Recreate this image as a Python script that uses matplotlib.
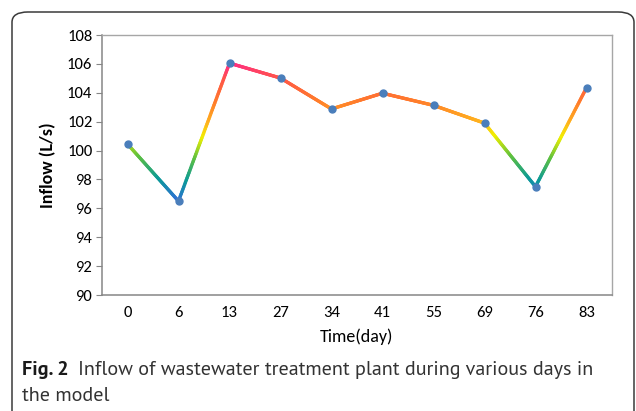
import numpy as np
import matplotlib
matplotlib.use("Agg")
import matplotlib.pyplot as plt
from matplotlib import font_manager
from matplotlib.collections import LineCollection
from matplotlib.colors import LinearSegmentedColormap, Normalize
from matplotlib.patches import FancyBboxPatch

# data
days = ["0", "6", "13", "27", "34", "41", "55", "69", "76", "83"]
inflow = [100.45, 96.5, 106.05, 105.02, 102.88, 103.97, 103.13, 101.9, 97.5, 104.35]

# colour ramp of the line, by inflow value
ramp_vals = [96.5, 98.0, 99.6, 101.0, 102.0, 103.5, 105.0, 106.1]
ramp_cols = ["#2f6fd8", "#0b9a98", "#62c23c", "#f2f000", "#ffb21e",
             "#ff7a2c", "#ff5648", "#ff2a86"]

caption_bold = "Fig. 2"
caption_1 = "Inflow of wastewater treatment plant during various days in"
caption_2 = "the model"

names = set(f.name for f in font_manager.fontManager.ttflist)
tick_font = "Carlito" if "Carlito" in names else "Lato"
cap_font = "PT Sans" if "PT Sans" in names else "Open Sans"

fig = plt.figure(figsize=(6.36, 4.11), dpi=100)

# rounded frame around the figure + caption
frame = FancyBboxPatch((12 / 636, -0.1), 622 / 636, 1.1 - 12 / 411,
                       boxstyle="round,pad=0,rounding_size=0.025",
                       transform=fig.transFigure, facecolor="none",
                       edgecolor="#3a3a3a", linewidth=1.1)
fig.patches.append(frame)

ax = fig.add_axes([102 / 636, 116 / 411, 510 / 636, 260 / 411])

x = np.arange(len(days))
y = np.array(inflow)

norm = Normalize(ramp_vals[0], ramp_vals[-1])
cmap = LinearSegmentedColormap.from_list(
    "ramp", [(norm(v), c) for v, c in zip(ramp_vals, ramp_cols)])

# split every segment in small pieces so the colour follows the value
xs, ys = [], []
for i in range(len(x) - 1):
    t = np.linspace(0, 1, 60)
    xs.append(x[i] + (x[i + 1] - x[i]) * t)
    ys.append(y[i] + (y[i + 1] - y[i]) * t)
xs = np.concatenate(xs)
ys = np.concatenate(ys)
pts = np.column_stack([xs, ys]).reshape(-1, 1, 2)
segs = np.concatenate([pts[:-1], pts[1:]], axis=1)
lc = LineCollection(segs, cmap=cmap, norm=norm, linewidth=2.4,
                    capstyle="round")
lc.set_array((ys[:-1] + ys[1:]) / 2)
ax.add_collection(lc)

ax.plot(x, y, "o", color="#4a7ebb", markersize=5, zorder=3)

ax.set_xlim(-0.5, len(days) - 0.5)
ax.set_ylim(90, 108)
ax.set_yticks(np.arange(90, 109, 2))
ax.set_xticks(x)
ax.set_xticklabels(days)

for side in ["left", "bottom"]:
    ax.spines[side].set_color("#868686")
    ax.spines[side].set_linewidth(1.1)
for side in ["top", "right"]:
    ax.spines[side].set_color("#a6a6a6")
    ax.spines[side].set_linewidth(1.0)

ax.tick_params(axis="y", length=4, color="#868686", labelsize=12, pad=3)
ax.tick_params(axis="x", length=0, labelsize=12, pad=8)
for lab in ax.get_xticklabels() + ax.get_yticklabels():
    lab.set_fontfamily(tick_font)

ax.set_ylabel("Inflow (L/s)", fontsize=13, fontweight="bold",
              fontfamily=tick_font, labelpad=8)
ax.set_xlabel("Time(day)", fontsize=13, fontfamily=tick_font, labelpad=6)

# caption: bold "Fig. 2" then the rest right after it
cy1 = 1 - 370 / 411
cy2 = 1 - 396 / 411
t0 = fig.text(22 / 636, cy1, caption_bold, fontsize=14.5, fontweight="bold",
              va="center", ha="left", fontfamily=cap_font, color="#1a1a1a")
fig.canvas.draw()
bb = t0.get_window_extent()
fig.text((bb.x1 + 9) / 636, cy1, caption_1, fontsize=14.5,
         va="center", ha="left", fontfamily=cap_font, color="#333333")
fig.text(22 / 636, cy2, caption_2, fontsize=14.5,
         va="center", ha="left", fontfamily=cap_font, color="#333333")

fig.savefig("out.png", dpi=100)
